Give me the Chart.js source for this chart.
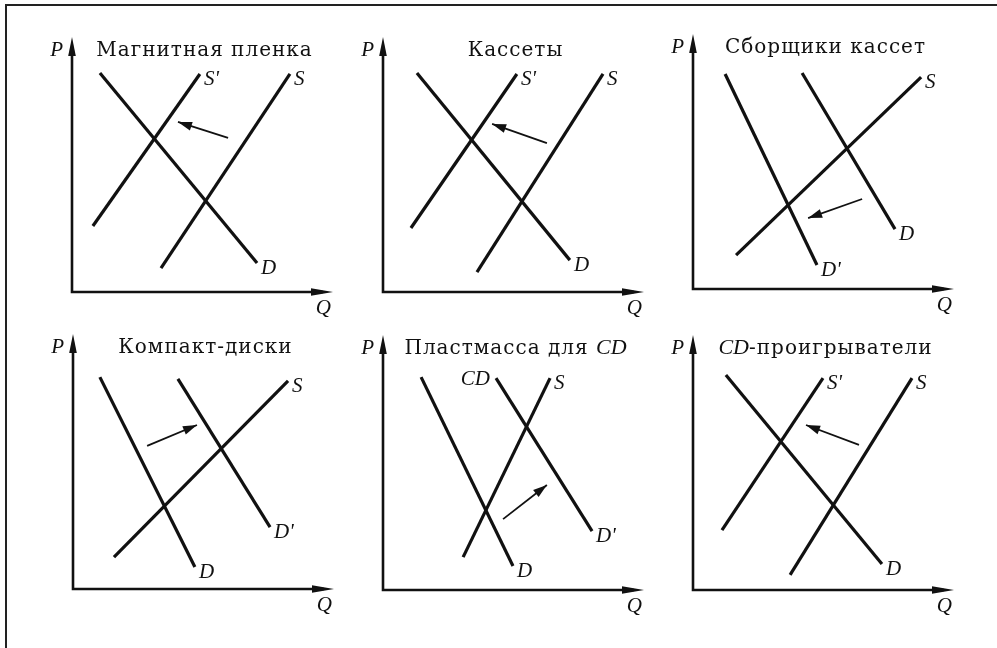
<!DOCTYPE html>
<html>
<head>
<meta charset="utf-8">
<script src="https://cdn.jsdelivr.net/npm/chart.js@4"></script>
<style>
  body { margin: 0; background: #fff; }
  #page { position: relative; width: 997px; height: 648px; overflow: hidden; background: #fff; }
  #frame { position: absolute; left: 5px; top: 4px; right: 0; bottom: 0;
           border-top: 2px solid #222; border-left: 2px solid #222; }
  canvas { position: absolute; }
</style>
</head>
<body>
<div id="page">
  <div id="frame"></div>
  <canvas id="c0" width="331" height="325"></canvas>
  <canvas id="c1" width="331" height="325"></canvas>
  <canvas id="c2" width="331" height="325"></canvas>
  <canvas id="c3" width="331" height="325"></canvas>
  <canvas id="c4" width="331" height="325"></canvas>
  <canvas id="c5" width="331" height="325"></canvas>
</div>
<script>
// panel titles
const titles = ["Магнитная пленка", "Кассеты", "Сборщики кассет",
                "Компакт-диски", "Пластмасса для CD", "CD-проигрыватели"];

// curves of each panel: label, Q at both ends, P at both ends (0..100 scale)
const curveLabels = [
  ["D", "S'", "S"],
  ["D", "S'", "S"],
  ["D'", "D", "S"],
  ["D", "D'", "S"],
  ["D", "D'", "S"],
  ["D", "S'", "S"]
];
const curveQ = [
  [[10.7, 70.9], [8.0, 49.0], [34.1, 83.5]],
  [[13.0, 71.6], [10.7, 51.3], [36.0, 84.3]],
  [[12.3, 47.5], [41.8, 77.4], [16.5, 87.4]],
  [[10.3, 46.7], [40.2, 75.5], [15.7, 82.4]],
  [[14.6, 49.8], [43.3, 80.1], [30.7, 64.0]],
  [[12.6, 72.4], [11.1, 49.8], [37.2, 83.9]]
];
const curveP = [
  [[85.9, 11.4], [25.9, 85.5], [9.4, 85.5]],
  [[85.9, 12.5], [25.1, 85.5], [7.8, 85.5]],
  [[84.3, 9.4], [84.7, 23.5], [13.3, 83.1]],
  [[83.1, 8.6], [82.4, 24.3], [12.5, 81.6]],
  [[83.5, 9.4], [83.1, 23.1], [12.9, 83.1]],
  [[84.3, 10.2], [23.5, 83.1], [5.9, 83.1]]
];
// extra tag written at the upper end of a curve
const curveTags = [[], [], [], [], ["", "CD", ""], []];

// shift arrows: from -> to
const shiftQ = [[59.8, 40.6], [62.8, 41.8], [64.8, 44.1], [28.4, 47.5], [46.0, 62.8], [63.6, 43.3]];
const shiftP = [[60.4, 66.7], [58.4, 65.9], [35.3, 27.8], [56.1, 64.3], [27.8, 41.2], [56.9, 64.7]];

// layout: page position of each panel's axis origin
const panelOrigin = [[72, 292], [383, 292], [693, 289], [73, 589], [383, 590], [693, 590]];
const plotW = 261, plotH = 255;
const pad = { left: 40, top: 30, right: 30, bottom: 40 };

const ink = '#111';
const romanFont = '20px "DejaVu Serif"';
const italicFont = 'italic 21px "Liberation Serif"';
const titleItalicFont = 'italic 22px "Liberation Serif"';

function arrowHead(ctx, fx, fy, tx, ty, len, half) {
  const dx = tx - fx, dy = ty - fy;
  const d = Math.hypot(dx, dy);
  const ux = dx / d, uy = dy / d;
  const bx = tx - ux * len, by = ty - uy * len;
  ctx.beginPath();
  ctx.moveTo(tx, ty);
  ctx.lineTo(bx - uy * half, by + ux * half);
  ctx.lineTo(bx + uy * half, by - ux * half);
  ctx.closePath();
  ctx.fill();
}

function drawTitle(ctx, text, cx, y) {
  const parts = text.split(/(CD)/).filter(s => s.length);
  const fonts = parts.map(s => s === 'CD' ? titleItalicFont : romanFont);
  const spacing = parts.map(s => s === 'CD' ? '0px' : '1px');
  let total = 0;
  const widths = parts.map((s, k) => {
    ctx.font = fonts[k];
    ctx.letterSpacing = spacing[k];
    const w = ctx.measureText(s).width;
    total += w;
    return w;
  });
  let x = cx - total / 2;
  ctx.textAlign = 'left';
  parts.forEach((s, k) => {
    ctx.font = fonts[k];
    ctx.letterSpacing = spacing[k];
    ctx.fillText(s, x, y);
    x += widths[k];
  });
  ctx.letterSpacing = '0px';
}

// axes, arrows, labels
const panelDecor = {
  id: 'panelDecor',
  beforeDatasetsDraw(chart, args, opts) {
    const ctx = chart.ctx, xs = chart.scales.x, ys = chart.scales.y;
    const x0 = xs.getPixelForValue(0), y0 = ys.getPixelForValue(0);
    const x1 = xs.getPixelForValue(100), y1 = ys.getPixelForValue(100);
    ctx.save();
    ctx.strokeStyle = ink;
    ctx.fillStyle = ink;
    ctx.lineWidth = 2.6;
    ctx.beginPath();
    ctx.moveTo(x0, y0 + 1.3);
    ctx.lineTo(x0, y1 + 10);
    ctx.moveTo(x0 - 1.3, y0);
    ctx.lineTo(x1 - 10, y0);
    ctx.stroke();
    arrowHead(ctx, x0, y0, x0, y1, 19, 3.8);
    arrowHead(ctx, x0, y0, x1, y0, 22, 3.8);
    ctx.restore();
  },
  afterDatasetsDraw(chart, args, opts) {
    const ctx = chart.ctx, xs = chart.scales.x, ys = chart.scales.y;
    const i = opts.index;
    const x0 = xs.getPixelForValue(0), y0 = ys.getPixelForValue(0);
    const x1 = xs.getPixelForValue(100), y1 = ys.getPixelForValue(100);
    ctx.save();
    ctx.fillStyle = ink;
    ctx.textBaseline = 'alphabetic';

    // axis names
    ctx.font = italicFont;
    ctx.textAlign = 'right';
    ctx.fillText('P', x0 - 9, y1 + 18.5);
    ctx.fillText('Q', x1 - 2, y0 + 22);

    drawTitle(ctx, titles[i], (x0 + x1) / 2 + 2, y1 + 19);

    // curve labels and shift arrowheads
    chart.data.datasets.forEach((ds, k) => {
      const pts = chart.getDatasetMeta(k).data;
      if (ds.role === 'shift') {
        arrowHead(ctx, pts[0].x, pts[0].y, pts[1].x, pts[1].y, 14, 4.5);
        return;
      }
      const right = pts[0].x > pts[1].x ? pts[0] : pts[1];
      const left = pts[0].x > pts[1].x ? pts[1] : pts[0];
      ctx.font = italicFont;
      ctx.textAlign = 'left';
      ctx.fillText(ds.label, right.x + 4, right.y + 11);
      const tag = (curveTags[i] || [])[k];
      if (tag) {
        ctx.textAlign = 'right';
        ctx.fillText(tag, left.x - 6, left.y + 7);
      }
    });
    ctx.restore();
  }
};

titles.forEach((t, i) => {
  const cv = document.getElementById('c' + i);
  cv.style.left = (panelOrigin[i][0] - pad.left) + 'px';
  cv.style.top = (panelOrigin[i][1] - plotH - pad.top) + 'px';

  const datasets = curveLabels[i].map((lab, k) => ({
    label: lab,
    role: 'curve',
    data: [
      { x: curveQ[i][k][0], y: curveP[i][k][0] },
      { x: curveQ[i][k][1], y: curveP[i][k][1] }
    ],
    showLine: true,
    borderColor: ink,
    borderWidth: 3.2,
    pointRadius: 0,
    clip: false
  }));
  datasets.push({
    label: 'shift',
    role: 'shift',
    data: [
      { x: shiftQ[i][0], y: shiftP[i][0] },
      { x: shiftQ[i][1], y: shiftP[i][1] }
    ],
    showLine: true,
    borderColor: ink,
    borderWidth: 1.8,
    pointRadius: 0,
    clip: false
  });

  new Chart(cv.getContext('2d'), {
    type: 'scatter',
    data: { datasets: datasets },
    options: {
      responsive: false,
      animation: false,
      events: [],
      layout: { padding: pad },
      scales: {
        x: { type: 'linear', min: 0, max: 100, display: false },
        y: { type: 'linear', min: 0, max: 100, display: false }
      },
      plugins: {
        legend: { display: false },
        tooltip: { enabled: false },
        panelDecor: { index: i }
      }
    },
    plugins: [panelDecor]
  });
});
</script>
</body>
</html>
